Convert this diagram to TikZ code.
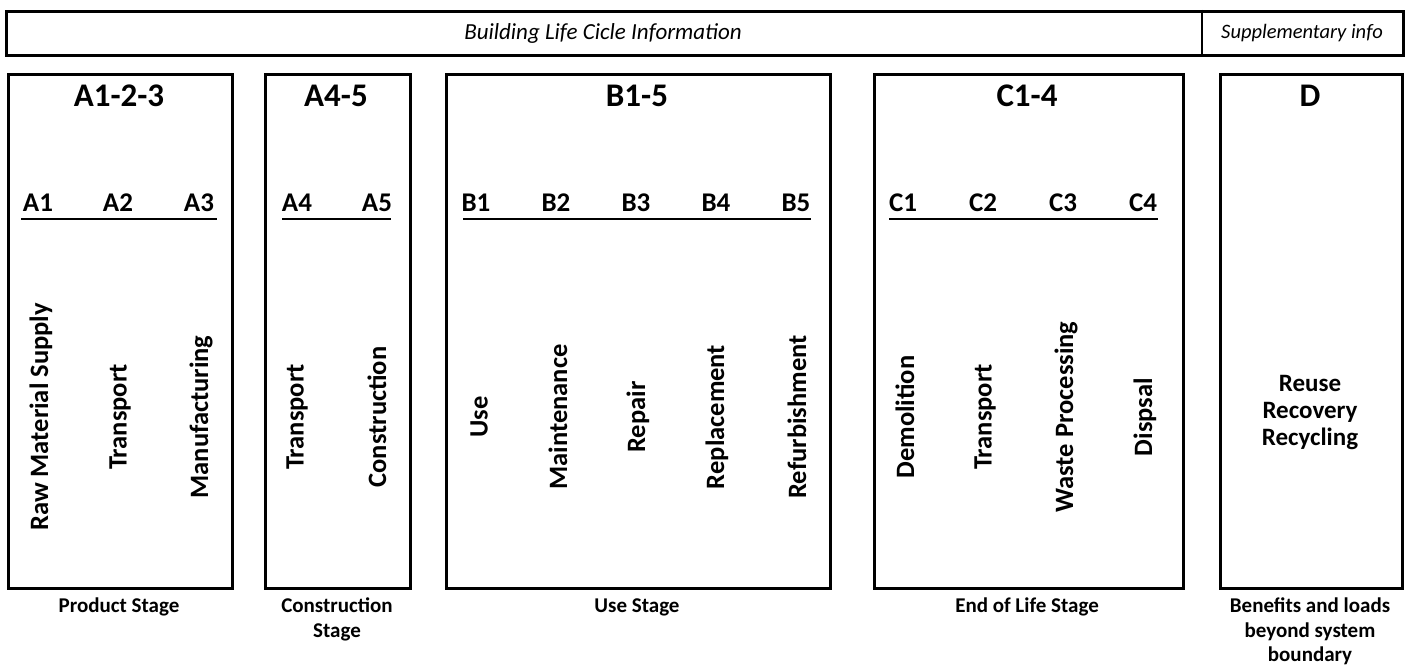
\documentclass[tikz,border=0pt]{standalone}
\usepackage{fontspec}
\setmainfont{Carlito}
\begin{document}
\begin{tikzpicture}[x=1pt,y=-1pt,
  frame/.style={draw, line width=2.6pt, inner sep=0pt, anchor=north west},
  heading/.style={font=\bfseries\fontsize{33}{38}\selectfont, inner sep=0pt},
  sublabel/.style={font=\bfseries\fontsize{27}{31}\selectfont, inner sep=0pt},
  module/.style={font=\bfseries\fontsize{26.5}{31}\selectfont, rotate=90, inner sep=0pt},
  stagename/.style={font=\bfseries\fontsize{21}{25}\selectfont, align=center, anchor=north, inner sep=0pt,
    execute at begin node={\vphantom{d}}},
  rulebar/.style={line width=2.4pt},
  info/.style={font=\itshape\fontsize{20.5}{24}\selectfont, inner sep=0pt}]
\useasboundingbox (0,0) rectangle (1407,666);

% header bar with its divider
\node[frame, minimum width=1397pt, minimum height=44pt] (bar) at (5,10) {};
\coordinate (divtop) at (1202,10);
\coordinate (divbot) at (1202,54);
\draw[line width=2.6pt] (divtop) -- (divbot);
\node[info, font=\itshape\fontsize{23}{27}\selectfont] (blci) at (603,33) {Building Life Cicle Information};
\node[info] (supp) at (1302,33) {Supplementary info};

% stage frames
\node[frame, minimum width=224pt, minimum height=514pt] (boxA) at (7,73) {};
\node[frame, minimum width=145pt, minimum height=514pt] (boxAB) at (264,73) {};
\node[frame, minimum width=384pt, minimum height=514pt] (boxB) at (445,73) {};
\node[frame, minimum width=309pt, minimum height=514pt] (boxC) at (873,73) {};
\node[frame, minimum width=182pt, minimum height=514pt] (boxD) at (1219,73) {};

% headings
\node[heading] (hA) at (119,96) {A1-2-3};
\node[heading] (hAB) at (336,96) {A4-5};
\node[heading] (hB) at (637,96) {B1-5};
\node[heading] (hC) at (1027,96) {C1-4};
\node[heading] (hD) at (1310,96) {D};

% module codes
\node[sublabel] (a1) at (38,203) {A1};
\node[sublabel] (a2) at (118,203) {A2};
\node[sublabel] (a3) at (199,203) {A3};
\node[sublabel] (a4) at (297,203) {A4};
\node[sublabel] (a5) at (377,203) {A5};
\node[sublabel] (b1) at (476,203) {B1};
\node[sublabel] (b2) at (556,203) {B2};
\node[sublabel] (b3) at (636,203) {B3};
\node[sublabel] (b4) at (716,203) {B4};
\node[sublabel] (b5) at (796,203) {B5};
\node[sublabel] (c1) at (903,203) {C1};
\node[sublabel] (c2) at (983,203) {C2};
\node[sublabel] (c3) at (1063,203) {C3};
\node[sublabel] (c4) at (1143,203) {C4};

% underlines
\coordinate (ulA1) at (21,219);  \coordinate (ulA2) at (217,219);
\coordinate (ulB1) at (282,219); \coordinate (ulB2) at (391,219);
\coordinate (ulC1) at (463,219); \coordinate (ulC2) at (811,219);
\coordinate (ulD1) at (889,219); \coordinate (ulD2) at (1158,219);
\draw[rulebar] (ulA1) -- (ulA2);
\draw[rulebar] (ulB1) -- (ulB2);
\draw[rulebar] (ulC1) -- (ulC2);
\draw[rulebar] (ulD1) -- (ulD2);

% module names
\node[module] (m1) at (41,417) {Raw Material Supply};
\node[module] (m2) at (120,417) {Transport};
\node[module] (m3) at (201,417) {Manufacturing};
\node[module] (m4) at (297,417) {Transport};
\node[module] (m5) at (377,417) {Construction};
\node[module] (m6) at (479,417) {Use};
\node[module] (m7) at (558,417) {Maintenance};
\node[module] (m8) at (638,417) {Repair};
\node[module] (m9) at (717,417) {Replacement};
\node[module] (m10) at (797,417) {Refurbishment};
\node[module] (m11) at (905,417) {Demolition};
\node[module] (m12) at (985,417) {Transport};
\node[module] (m13) at (1066,417) {Waste Processing};
\node[module] (m14) at (1145,417) {Dispsal};

% module D content
\node[font=\bfseries\fontsize{25}{27}\selectfont, align=center, inner sep=0pt] (rrr) at (1310,413) {Reuse\\Recovery\\Recycling};

% stage names
\node[stagename] (sA) at (119,598) {Product Stage};
\node[stagename] (sAB) at (337,598) {Construction\\Stage};
\node[stagename] (sB) at (637,598) {Use Stage};
\node[stagename] (sC) at (1027,598) {End of Life Stage};
\node[stagename, font=\bfseries\fontsize{21}{24.3}\selectfont] (sD) at (1310,598) {Benefits and loads\\beyond system\\boundary};
\end{tikzpicture}
\end{document}
